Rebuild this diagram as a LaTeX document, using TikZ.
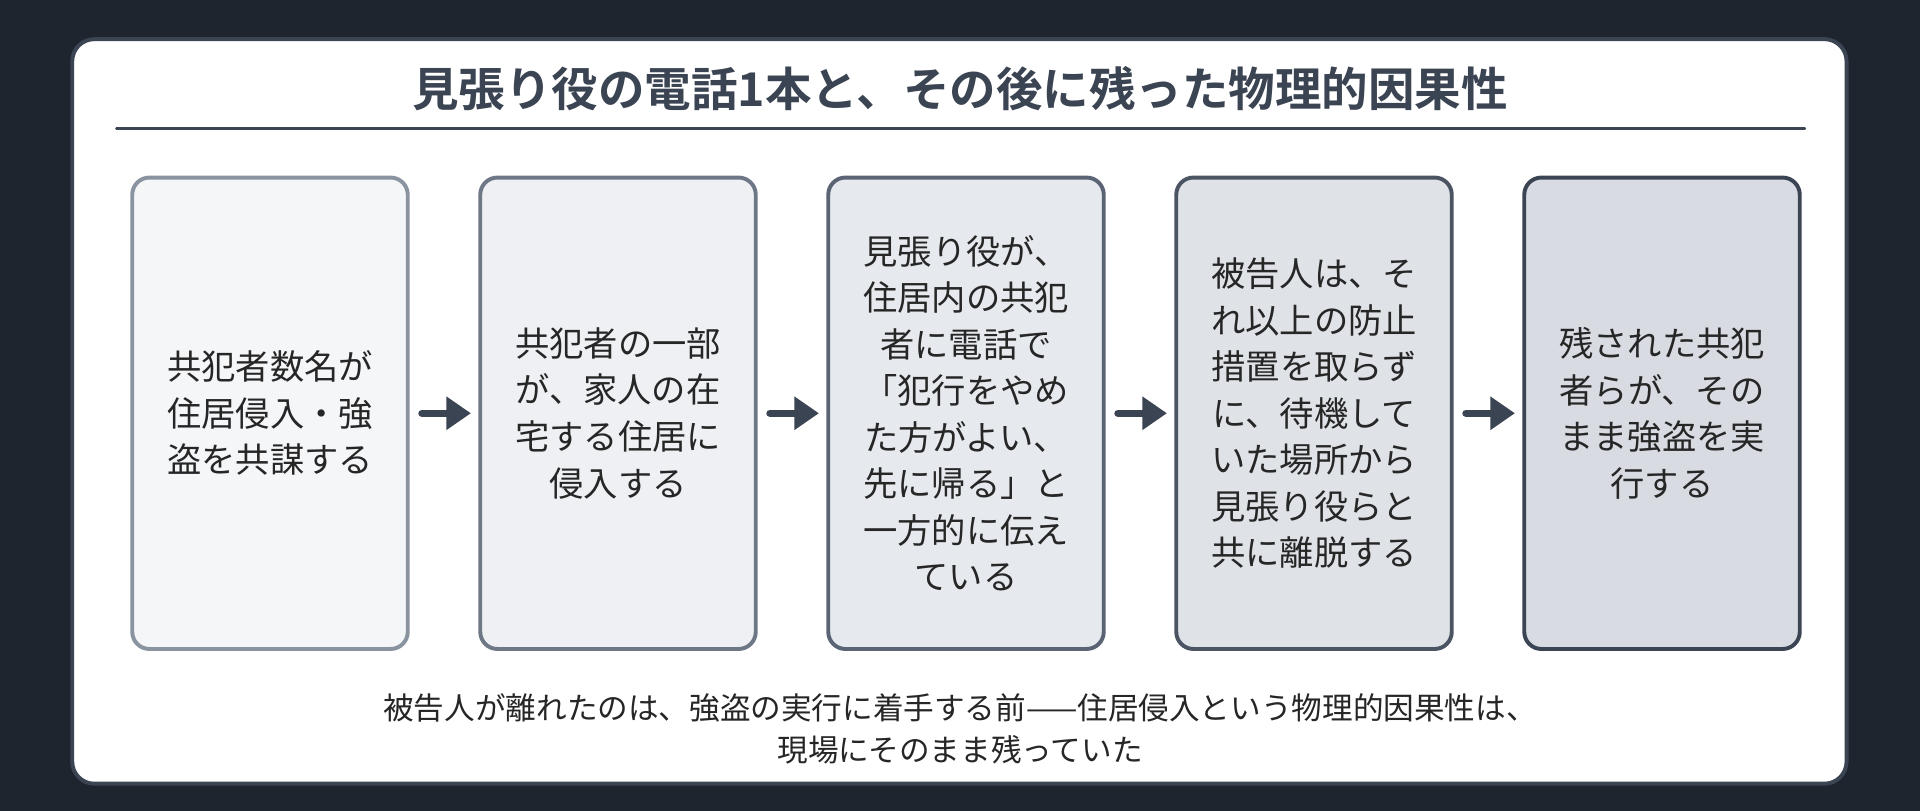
\documentclass[tikz,border=0pt]{standalone}
\usepackage{fontspec}
\setmainfont{Noto Sans CJK JP}
\newfontfamily\titlefont{Noto Sans CJK JP Bold}
\usetikzlibrary{arrows.meta,positioning}
\definecolor{darkbg}{HTML}{1E252F}
\definecolor{inkgray}{HTML}{3B4452}
\definecolor{fillA}{HTML}{F5F6F8}
\definecolor{fillB}{HTML}{EEF0F3}
\definecolor{fillC}{HTML}{E6E9ED}
\definecolor{fillD}{HTML}{DFE2E7}
\definecolor{fillE}{HTML}{D8DCE2}
\definecolor{lineA}{HTML}{8A93A0}
\definecolor{lineB}{HTML}{6E7786}
\definecolor{lineC}{HTML}{5B6474}
\definecolor{lineD}{HTML}{4B5463}
\definecolor{lineE}{HTML}{3B4452}
\begin{document}
\begin{tikzpicture}[x=0.5pt, y=-0.5pt, node distance=28pt, line cap=round,
    stage/.style={rounded corners=7pt, draw, line width=1.6pt, minimum width=112.5pt, minimum height=192.5pt,
      text=black!85, font=\fontsize{14}{19}\selectfont, align=center, inner sep=2pt},
    flow/.style={-{Triangle[length=10pt,width=13pt]}, line width=3pt, draw=inkgray, shorten >=0pt, shorten <=0pt},]
   \fill[darkbg] (0,0) rectangle (1568,662);
   \draw[fill=white, draw=inkgray, line width=1.6pt, rounded corners=9pt] (59,32) rectangle (1508,640);

   \node[font=\titlefont\fontsize{19}{22}\selectfont, text=inkgray] (title) at (784,72) {見張り役の電話1本と、その後に残った物理的因果性};
   \draw[inkgray, line width=1pt] (95,105) -- (1474,105);

   \node[stage, fill=fillA, draw=lineA] (plot) at (220.5,337.5) {共犯者数名が\\住居侵入・強\\盗を共謀する};
   \node[stage, fill=fillB, draw=lineB] (enter) [right=of plot] {共犯者の一部\\が、家人の在\\宅する住居に\\侵入する};
   \node[stage, fill=fillC, draw=lineC] (call) [right=of enter] {見張り役が、\\住居内の共犯\\者に電話で\\「犯行をやめ\\た方がよい、\\先に帰る」と\\一方的に伝え\\ている};
   \node[stage, fill=fillD, draw=lineD] (leave) [right=of call] {被告人は、そ\\れ以上の防止\\措置を取らず\\に、待機して\\いた場所から\\見張り役らと\\共に離脱する};
   \node[stage, fill=fillE, draw=lineE] (rob) [right=of leave] {残された共犯\\者らが、その\\まま強盗を実\\行する};

   \foreach \a/\b in {plot/enter, enter/call, call/leave, leave/rob}
     \draw[flow] ([xshift=5pt]\a.east) -- ([xshift=-3pt]\b.west);

   \node[font=\fontsize{12.5}{17}\selectfont, text=black!85, align=center] (note) at (784,595)
     {被告人が離れたのは、強盗の実行に着手する前——住居侵入という物理的因果性は、\\現場にそのまま残っていた};
\end{tikzpicture}
\end{document}
